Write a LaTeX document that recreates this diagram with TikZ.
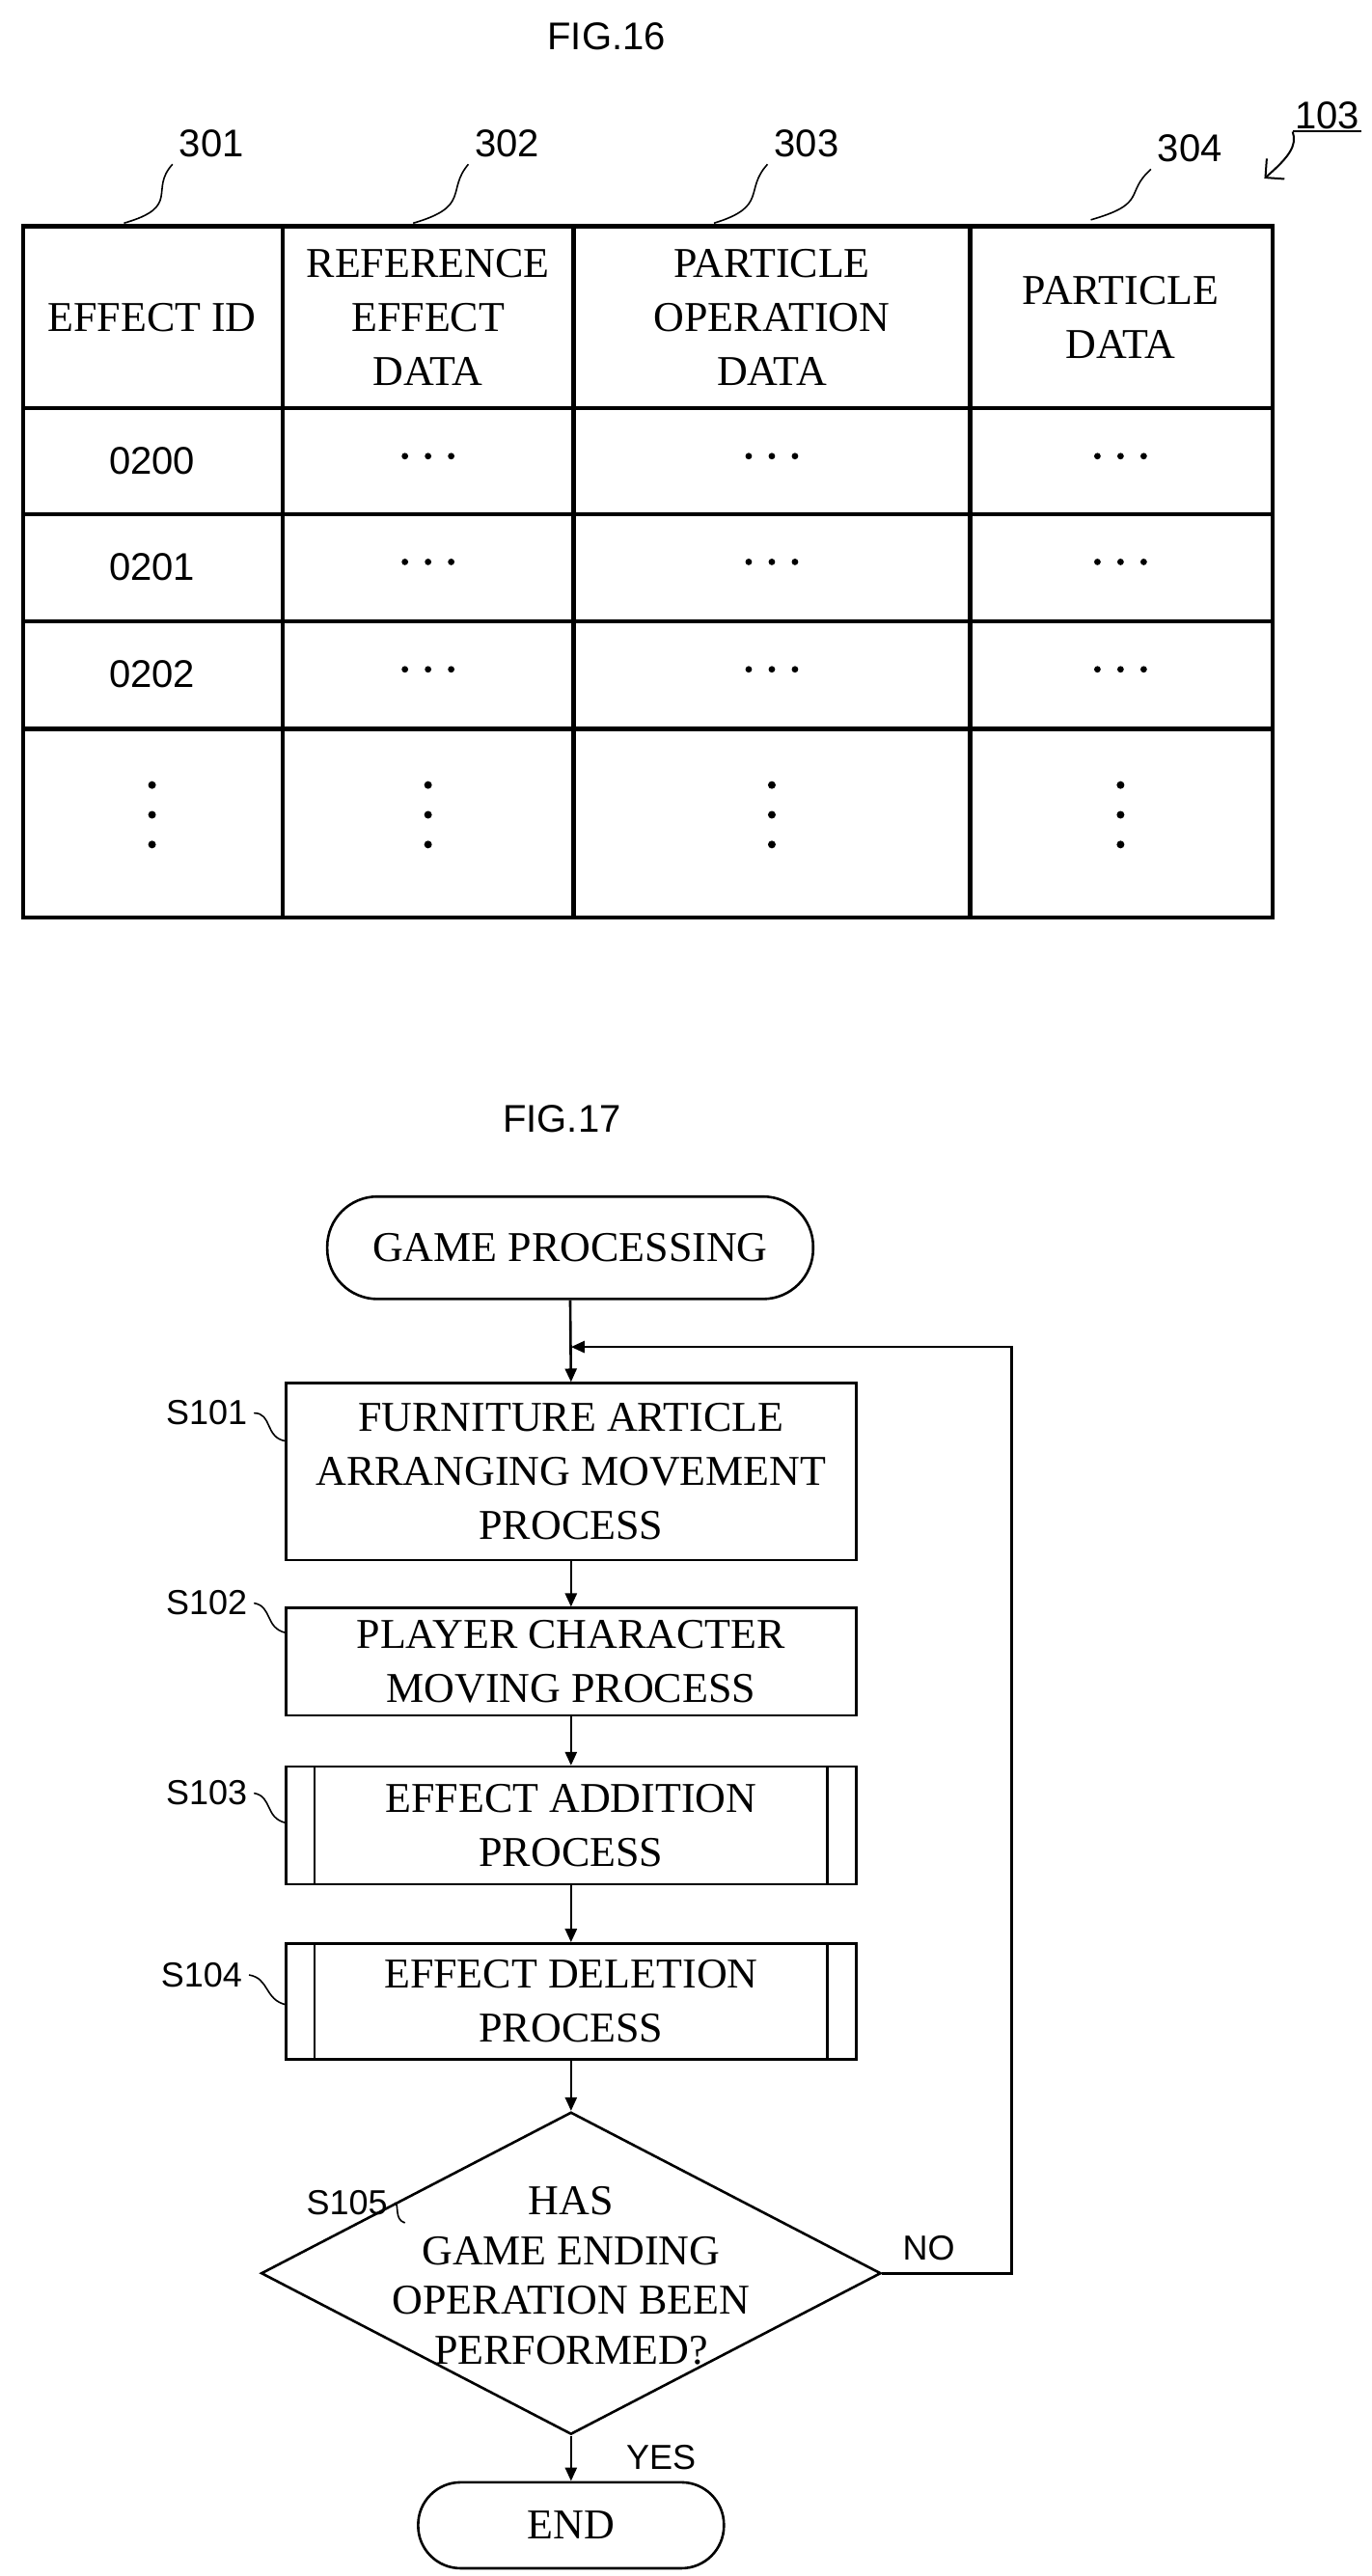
\documentclass[tikz,border=0pt]{standalone}
\usepackage{fontspec}
\setmainfont{Liberation Serif}
\setsansfont{Liberation Sans}
\usetikzlibrary{shapes.geometric,arrows.meta}
\begin{document}
\begin{tikzpicture}[x=0.8565pt,y=-0.8565pt,
 tbl/.style={line width=2.2pt},
 hd/.style={font=\fontsize{22}{28}\selectfont,align=center},
 num/.style={font=\sffamily\fontsize{20}{24}\selectfont},
 lab/.style={font=\sffamily\fontsize{18}{22}\selectfont},
 box/.style={draw,line width=1.3pt,minimum width=345*0.8565pt,align=center,font=\fontsize{22}{28}\selectfont,inner sep=0pt},
 term/.style={draw,line width=1.3pt,rounded corners=26pt,align=center,font=\fontsize{22}{28}\selectfont,inner sep=0pt},
 ar/.style={line width=1.3pt,-{Triangle[length=7pt,width=6pt]}},
 sq/.style={line width=0.8pt}]
\useasboundingbox (0,0) rectangle (830.1,1558.7);
% FIG 16
\node[num] (f16) at (367,22) {FIG.16};
\draw[tbl] (14,137) rectangle (770,555);
\foreach \x in {171,347,587} \draw[tbl] (\x,137) -- (\x,555);
\foreach \y in {247,311,376,441} \draw[tbl] (14,\y) -- (770,\y);
\node[hd] (h1) at (92,192) {EFFECT ID};
\node[hd] (h2) at (259,192) {REFERENCE\\EFFECT\\DATA};
\node[hd] (h3) at (467,192) {PARTICLE\\OPERATION\\DATA};
\node[hd] (h4) at (678,192) {PARTICLE\\DATA};
\foreach \y/\t [count=\i] in {279/0200,343/0201,408/0202} {
 \node[num] (id\i) at (92,\y) {\t};
 \foreach \x in {259,467,678} \foreach \d in {-14,0,14} \fill (\x+\d,\y-3) circle (1.7pt);
}
\foreach \x in {92,259,467,678} {
 \foreach \d in {-18,0,18} \fill (\x,493+\d) circle (2pt);
}
\node[num] (r301) at (128,87) {301};
\node[num] (r302) at (307,87) {302};
\node[num] (r303) at (488,87) {303};
\node[num] (r304) at (720,90) {304};
\draw[sq] (r301.south west) .. controls (90,115) and (110,125) .. (75,135);
\draw[sq] (r302.south west) .. controls (270,115) and (285,125) .. (250,135);
\draw[sq] (r303.south west) .. controls (450,115) and (465,125) .. (432,135);
\draw[sq] (r304.south west) .. controls (680,117) and (695,123) .. (660,133);
\node[num,inner sep=1pt] (r103) at (803,70) {103};
\draw[line width=1pt] (r103.south west) -- (r103.south east);
\coordinate (a103) at (765,108);
\draw[line width=1pt,-{Straight Barb[length=7pt]}] (r103.south west) .. controls (785,88) and (780,95) .. (a103);
% FIG 17
\node[num] (f17) at (340,677) {FIG.17};
\node[term,minimum width=294*0.8565pt,minimum height=62*0.8565pt] (start) at (345,755) {GAME PROCESSING};
\node[box,minimum height=107*0.8565pt] (b1) at (345.5,890.5) {FURNITURE ARTICLE\\ARRANGING MOVEMENT\\PROCESS};
\node[box,minimum height=65*0.8565pt] (b2) at (345.5,1005.5) {PLAYER CHARACTER\\MOVING PROCESS};
\node[box,minimum height=71*0.8565pt] (b3) at (345.5,1104.5) {EFFECT ADDITION\\PROCESS};
\node[box,minimum height=70*0.8565pt] (b4) at (345.5,1211) {EFFECT DELETION\\PROCESS};
\foreach \b in {b3,b4} {
 \draw[line width=1.3pt] ([xshift=18*0.8565pt]\b.north west) -- ([xshift=18*0.8565pt]\b.south west);
 \draw[line width=1.3pt] ([xshift=-18*0.8565pt]\b.north east) -- ([xshift=-18*0.8565pt]\b.south east);
}
\node[draw,diamond,line width=1.3pt,aspect=1.92,minimum width=375*0.8565pt,minimum height=195*0.8565pt,inner sep=0pt] (d) at (345.5,1375.5) {};
\node[align=center,font=\fontsize{22}{25.7}\selectfont] (dt) at (345.5,1377) {HAS\\GAME ENDING\\OPERATION BEEN\\PERFORMED?};
\node[term,minimum width=185*0.8565pt,minimum height=52*0.8565pt,rounded corners=22pt] (end) at (345.5,1528) {END};
\coordinate (m) at (345.5,815);
\coordinate (c2) at (612,815);
\draw[ar] (start.south) -- (b1.north);
\draw[ar] (b1) -- (b2);
\draw[ar] (b2) -- (b3);
\draw[ar] (b3) -- (b4);
\draw[ar] (b4) -- (d);
\draw[ar] (d) -- (end);
\draw[ar] (d.east) -- (d.east -| c2) -- (c2) -- (m);
\node[lab] (no) at (562,1360) {NO};
\node[lab] (yes) at (400,1487) {YES};
\node[lab] (s1) at (125,855) {S101};
\node[lab] (s2) at (125,970) {S102};
\node[lab] (s3) at (125,1085) {S103};
\node[lab] (s4) at (122,1195) {S104};
\node[lab] (s5) at (210,1333) {S105};
\draw[sq] (s1.east) .. controls (165,855) and (160,870) .. (173,872);
\draw[sq] (s2.east) .. controls (165,972) and (160,985) .. (173,988);
\draw[sq] (s3.east) .. controls (165,1087) and (160,1100) .. (173,1103);
\draw[sq] (s4.east) .. controls (163,1197) and (160,1210) .. (173,1213);
\draw[sq] (s5.east) .. controls (242,1333) and (238,1343) .. (245,1345);
\end{tikzpicture}
\end{document}
